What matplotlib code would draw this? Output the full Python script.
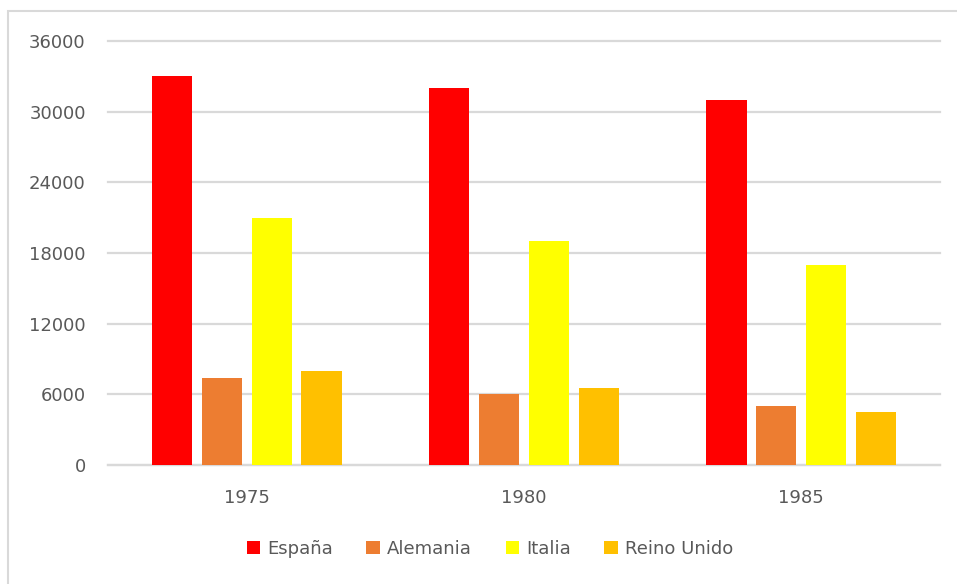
import matplotlib
matplotlib.use("Agg")
import matplotlib.pyplot as plt
import numpy as np
from matplotlib.patches import Rectangle

years = ["1975", "1980", "1985"]
series_names = ["España", "Alemania", "Italia", "Reino Unido"]
espana = [33000, 32000, 31000]
alemania = [7400, 6000, 5000]
italia = [21000, 19000, 17000]
reino_unido = [8000, 6500, 4500]
y_ticks = [0, 6000, 12000, 18000, 24000, 30000, 36000]

series = [espana, alemania, italia, reino_unido]
colors = ["#FF0000", "#ED7D31", "#FFFF00", "#FFC000"]
text_color = "#595959"
grid_color = "#D9D9D9"

plt.rcParams['font.family'] = ['DejaVu Sans']

fig = plt.figure(figsize=(9.57, 5.84), dpi=100)
ax = fig.add_axes([108/957, 1-465/584, (940-108)/957, (465-41)/584])

x = np.arange(len(years))
pitch = 0.18
width = 0.145
for i, (vals, name, c) in enumerate(zip(series, series_names, colors)):
    ax.bar(x + (i - 1.5) * pitch, vals, width=width, color=c, label=name, zorder=3)

ax.set_xlim(-0.5, 2.5)
ax.set_ylim(0, 36000)
ax.set_yticks(y_ticks)
ax.set_yticklabels([str(v) for v in y_ticks])
ax.set_xticks(x)
ax.set_xticklabels(years)
ax.yaxis.grid(True, color=grid_color, linewidth=1.6, zorder=0)
for gl in ax.get_ygridlines():
    gl.set_clip_on(False)
ax.set_axisbelow(True)
for s in ["top", "right", "left"]:
    ax.spines[s].set_visible(False)
ax.spines["bottom"].set_color(grid_color)
ax.spines["bottom"].set_linewidth(1.6)
ax.tick_params(axis="y", length=0, pad=16, labelsize=13, labelcolor=text_color)
ax.tick_params(axis="x", length=0, pad=17, labelsize=13, labelcolor=text_color)

# outer border (top and left visible)
fig.patches.append(Rectangle((8/957, -0.05), 1.2, 1.05 - 11/584, transform=fig.transFigure,
                             fill=False, edgecolor=grid_color, linewidth=1.5))

fig.legend(loc="center", bbox_to_anchor=(490/957, 1-549/584), ncol=4, frameon=False,
           fontsize=13, labelcolor=text_color, handlelength=0.75, handleheight=0.75,
           handletextpad=0.4, columnspacing=1.85)

fig.savefig("out.png", dpi=100, facecolor="white")
